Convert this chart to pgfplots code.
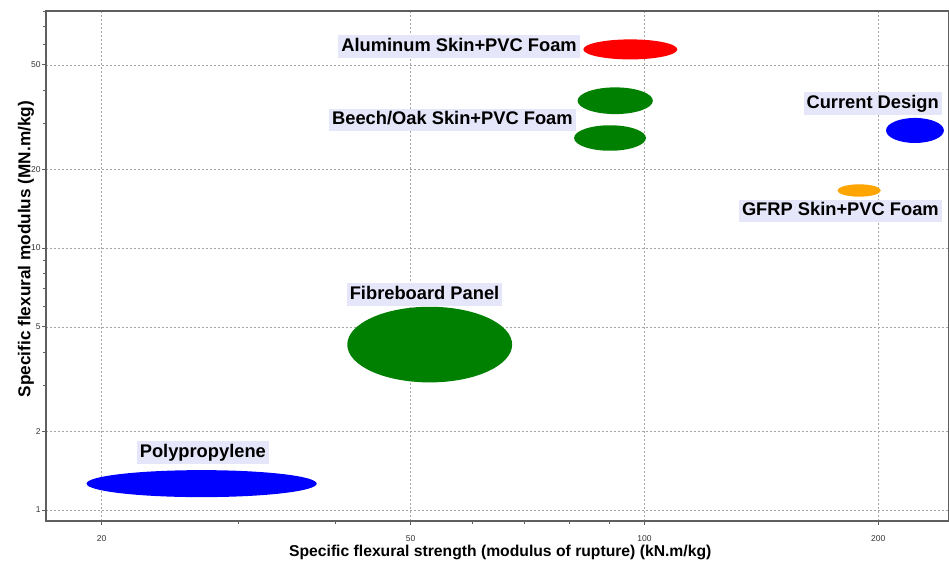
\documentclass[border=0pt]{standalone}
\usepackage{fontspec}
\setmainfont{Liberation Sans}
\usepackage{pgfplots}
\usepackage{pgfplotstable}
\pgfplotsset{compat=1.18}
\definecolor{lav}{RGB}{230,230,250}
\definecolor{cgreen}{RGB}{0,128,0}
\definecolor{corange}{RGB}{255,165,0}
\definecolor{cgrid}{RGB}{165,165,165}
\definecolor{caxis}{RGB}{95,95,95}

% center (geometric mean) and property ranges of each material bubble
\pgfplotstableread{
x y xlo xhi ylo yhi
26.9 1.261 19.1 37.8 1.12 1.42
223.0 28.1 204.7 243.0 25.2 31.4
}\bluedata
\pgfplotstableread{
x y xlo xhi ylo yhi
52.9 4.28 41.4 67.5 3.07 5.97
91.7 36.5 82.0 102.5 32.5 41.1
90.3 26.3 81.2 100.5 23.5 29.4
}\greendata
\pgfplotstableread{
x y xlo xhi ylo yhi
95.9 57.3 83.4 110.2 52.5 62.6
}\reddata
\pgfplotstableread{
x y xlo xhi ylo yhi
189.0 16.58 177.2 201.5 15.7 17.5
}\orangedata

% pt per natural-log unit on each axis
\def\xk{337.27}
\def\yk{113.78}
\pgfdeclareplotmark{ellip}{%
  \pgfpathellipse{\pgfpointorigin}{\pgfqpoint{\rx pt}{0pt}}{\pgfqpoint{0pt}{\ry pt}}%
  \pgfusepath{fill}}
\pgfplotsset{ell/.style={scatter, only marks, mark=ellip,
  scatter/use mapped color={draw=none, fill=#1},
  visualization depends on={ln(\thisrow{xhi}/\thisrow{xlo})*\xk/2 \as \rx},
  visualization depends on={ln(\thisrow{yhi}/\thisrow{ylo})*\yk/2 \as \ry}}}
\tikzset{lbl/.style={fill=lav, font=\fontsize{18.3}{21}\selectfont\bfseries,
  inner xsep=3pt, inner ysep=2.5pt, text height=13.5pt, text depth=4pt}}

\begin{document}
\begin{tikzpicture}
\begin{axis}[
  width=903pt, height=510pt, scale only axis,
  xmode=log, ymode=log,
  xmin=16.96, xmax=246.7, ymin=0.908, ymax=80.3,
  xtick={20,50,100,200}, xticklabels={20,50,100,200},
  ytick={1,2,5,10,20,50}, yticklabels={1,2,5,10,20,50},
  minor xtick={30,40,60,70,80,90},
  minor ytick={0.9,3,4,6,7,8,9,30,40,60,70,80},
  tick align=outside, major tick length=4pt, minor tick length=3pt,
  xtick pos=left, ytick pos=left,
  grid=major,
  major grid style={cgrid, dash pattern=on 2pt off 2pt, line width=0.6pt},
  axis line style={caxis, line width=1.2pt},
  tick style={caxis, line width=0.8pt},
  /pgf/number format/assume math mode=true,
  ticklabel style={font=\fontsize{8.5}{10}\selectfont, text=black!80},
  yticklabel style={xshift=2pt},
  xticklabel style={yshift=-7pt},
  xlabel={Specific flexural strength (modulus of rupture) (kN.m/kg)},
  ylabel={Specific flexural modulus (MN.m/kg)},
  xlabel style={font=\fontsize{15.7}{18}\selectfont\bfseries,
    at={(axis description cs:0.503,-0.061)}, anchor=center},
  ylabel style={font=\fontsize{17.2}{20}\selectfont\bfseries,
    at={(axis description cs:-0.0222,0.533)}, anchor=center},
]
\coordinate (SW) at (rel axis cs:0,0);
\coordinate (NE) at (rel axis cs:1,1);
\addplot[ell=blue] table[x=x,y=y] {\bluedata};
\addplot[ell=cgreen] table[x=x,y=y] {\greendata};
\addplot[ell=red] table[x=x,y=y] {\reddata};
\addplot[ell=corange] table[x=x,y=y] {\orangedata};
\node[lbl, anchor=east] at (axis cs:82.6,58.8) {Aluminum Skin+PVC Foam};
\node[lbl, anchor=east] at (axis cs:81.6,30.8) {Beech/Oak Skin+PVC Foam};
\node[lbl, anchor=east] at (axis cs:241.6,35.6) {Current Design};
\node[lbl, anchor=east] at (axis cs:241.6,13.84) {GFRP Skin+PVC Foam};
\node[lbl] at (axis cs:52.1,6.64) {Fibreboard Panel};
\node[lbl] at (axis cs:27.0,1.658) {Polypropylene};
\end{axis}
\pgfresetboundingbox
\path[use as bounding box] ([xshift=-46pt,yshift=-42pt]SW) rectangle ([yshift=11pt]NE);
\end{tikzpicture}
\end{document}
